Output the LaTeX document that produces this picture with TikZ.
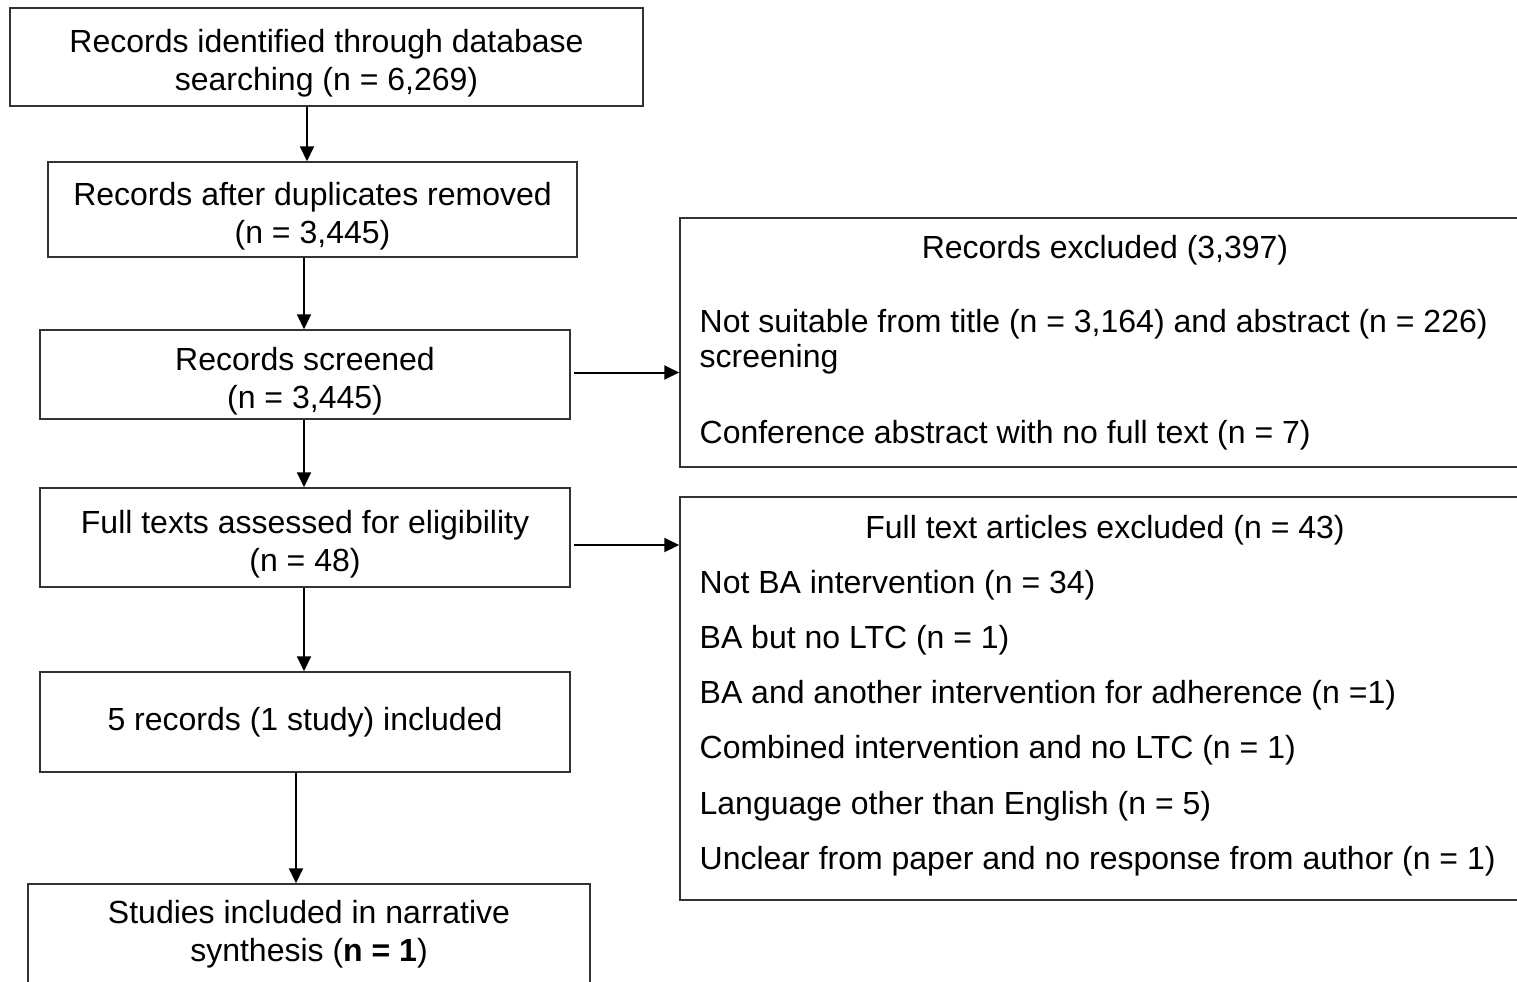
\documentclass[tikz,border=0pt]{standalone}
\usepackage{fontspec}
\setmainfont{Liberation Sans}
\usepackage{tikz}
\usetikzlibrary{positioning,arrows.meta}

\tikzset{
  flowbox/.style={draw=black!80, line width=0.75pt, align=center, inner sep=0pt},
  twoline/.style={text height=33.5pt, text depth=0pt},
  conn/.style={-{Triangle[length=7.5pt,width=7pt]}, line width=1pt},
}

\begin{document}
\begin{tikzpicture}[x=0.5pt, y=-0.5pt, font=\fontsize{16}{19}\selectfont]
            \useasboundingbox (0,0) rectangle (1517,981);

            % Main column
            \node[flowbox, twoline, minimum width=316.5pt, minimum height=49pt] (ident) at (326.5,57)
                {Records identified through database\\searching (n = 6,269)};
            \node[flowbox, twoline, minimum width=264.5pt, minimum height=47.5pt] (dup) at (312.5,209.5)
                {Records after duplicates removed\\(n = 3,445)};
            \node[flowbox, twoline, minimum width=265pt, minimum height=44.5pt] (screen) at (305,374.5)
                {Records screened\\(n = 3,445)};
            \node[flowbox, twoline, minimum width=265pt, minimum height=49.5pt] (full) at (305,537.5)
                {Full texts assessed for eligibility\\(n = 48)};
            \node[flowbox, minimum width=265pt, minimum height=50pt] (incl) at (305,722)
                {5 records (1 study) included};
            \node[flowbox, minimum width=281pt, minimum height=50pt] (synth) at (309,934)
                {Studies included in narrative\\synthesis (\textbf{n = 1})};

            % Exclusion boxes (lists placed by their last baseline)
            \node[flowbox, minimum width=425pt, minimum height=124.5pt] (excl) at (1105,342.5) {};
            \node[anchor=base] (exclhead) at ([yshift=-20.5pt]excl.north) {Records excluded (3,397)};
            \node[anchor=base west, align=left, inner sep=0pt, font=\fontsize{16}{17.5}\selectfont] (excllist)
                at ([xshift=10pt,yshift=-113pt]excl.north west)
                {Not suitable from title (n = 3,164) and abstract (n = 226)\\screening\\[20.5pt]
                 Conference abstract with no full text (n = 7)};

            \node[flowbox, minimum width=425pt, minimum height=201.5pt] (fullex) at (1105,698.5) {};
            \node[anchor=base] (fullexhead) at ([yshift=-21pt]fullex.north) {Full text articles excluded (n = 43)};
            \node[anchor=base west, align=left, inner sep=0pt, font=\fontsize{16}{27.6}\selectfont] (fullexlist)
                at ([xshift=10pt,yshift=-186.5pt]fullex.north west)
                {Not BA intervention (n = 34)\\
                 BA but no LTC (n = 1)\\
                 BA and another intervention for adherence (n =1)\\
                 Combined intervention and no LTC (n = 1)\\
                 Language other than English (n = 5)\\
                 Unclear from paper and no response from author (n = 1)};

            % Arrows
            \draw[conn] ([xshift=-9.75pt]ident.south) -- ([xshift=-2.75pt]dup.north);
            \draw[conn] ([xshift=-4.25pt]dup.south) -- ([xshift=-0.5pt]screen.north);
            \draw[conn] ([xshift=-0.5pt]screen.south) -- ([xshift=-0.5pt]full.north);
            \draw[conn] ([xshift=-0.5pt]full.south) -- ([xshift=-0.5pt]incl.north);
            \draw[conn] ([xshift=-4.5pt]incl.south) -- ([xshift=-6.5pt]synth.north);
            \draw[conn] ([xshift=1.5pt,yshift=1pt]screen.east) -- ([yshift=1pt]screen.east -| excl.west);
            \draw[conn] ([xshift=1.5pt,yshift=-3.75pt]full.east) -- ([yshift=-3.75pt]full.east -| fullex.west);
\end{tikzpicture}
\end{document}
